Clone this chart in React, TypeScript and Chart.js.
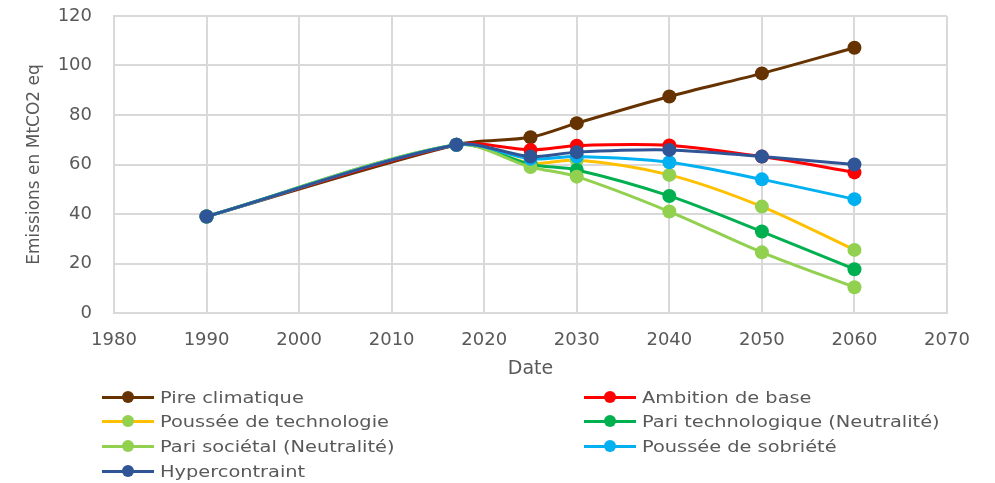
import React, { useEffect, useRef } from "react";
import { Chart, registerables } from "chart.js";

Chart.register(...registerables);

const years = [1990, 2017, 2025, 2030, 2040, 2050, 2060];
const pireClimatique = [39, 68, 71, 76.7, 87.5, 96.8, 107.2];
const ambitionDeBase = [39, 68, 65.9, 67.6, 67.7, 63.2, 56.8];
const pousseeTechnologie = [39, 68, 60.5, 61.8, 55.8, 43, 25.5];
const pariTechnologique = [39, 68, 60, 57.8, 47.3, 32.9, 17.7];
const pariSocietal = [39, 68, 59, 55.1, 41, 24.5, 10.4];
const pousseeSobriete = [39, 68, 62.3, 63.2, 60.9, 54, 46];
const hypercontraint = [39, 68, 63.2, 65, 65.9, 63.2, 60];

const xTicks = [1980, 1990, 2000, 2010, 2020, 2030, 2040, 2050, 2060, 2070];
const yTicks = [0, 20, 40, 60, 80, 100, 120];

const series = [
  { label: "Pire climatique", values: pireClimatique, line: "#663300", marker: "#663300" },
  { label: "Ambition de base", values: ambitionDeBase, line: "#FF0000", marker: "#FF0000" },
  { label: "Poussée de technologie", values: pousseeTechnologie, line: "#FFC000", marker: "#92D050" },
  { label: "Pari technologique (Neutralité)", values: pariTechnologique, line: "#00B050", marker: "#00B050" },
  { label: "Pari sociétal (Neutralité)", values: pariSocietal, line: "#92D050", marker: "#92D050" },
  { label: "Poussée de sobriété", values: pousseeSobriete, line: "#00B0F0", marker: "#00B0F0" },
  { label: "Hypercontraint", values: hypercontraint, line: "#2F5597", marker: "#2F5597" },
];

const FONT = "'DejaVu Sans', sans-serif";
const GRAY = "#595959";
const GRID = "#d9d9d9";

function LegendItem({ s, left, top }: { s: any; left: number; top: number }) {
  return (
    <div style={{ position: "absolute", left, top: top - 12, height: 24, display: "flex", alignItems: "center", whiteSpace: "nowrap" }}>
      <div style={{ position: "relative", width: 52, height: 24 }}>
        <div style={{ position: "absolute", left: 0, top: 10.5, width: 52, height: 3, background: s.line }} />
        <div style={{ position: "absolute", left: 20, top: 6, width: 12, height: 12, borderRadius: 6, background: s.marker }} />
      </div>
      <span style={{ display: "inline-block", marginLeft: 6, fontFamily: FONT, fontSize: 16, color: GRAY, transform: "scaleX(1.21)", transformOrigin: "left center" }}>
        {s.label}
      </span>
    </div>
  );
}

export default function App() {
  const ref = useRef<HTMLCanvasElement | null>(null);

  useEffect(() => {
    if (!ref.current) return;
    const n = series.length;
    const chart = new Chart(ref.current, {
      type: "line",
      data: {
        datasets: series.map((s, i) => ({
          label: s.label,
          data: years.map((y, j) => ({ x: y, y: s.values[j] })),
          borderColor: s.line,
          backgroundColor: s.marker,
          pointBackgroundColor: s.marker,
          pointBorderColor: s.marker,
          pointBorderWidth: 0,
          pointRadius: 7,
          borderWidth: 3,
          tension: 0.3,
          fill: false,
          order: n - i,
        })),
      },
      options: {
        responsive: false,
        animation: false,
        devicePixelRatio: 1,
        layout: { padding: { left: 0, top: 16, right: 48, bottom: 100 } },
        plugins: { legend: { display: false }, tooltip: { enabled: false } },
        scales: {
          x: {
            type: "linear",
            min: 1980,
            max: 2070,
            afterBuildTicks: (scale: any) => {
              scale.ticks = xTicks.map((v) => ({ value: v }));
            },
            afterFit: (scale: any) => {
              scale.height = 70;
            },
            ticks: {
              callback: (v: any) => String(v),
              font: { family: FONT, size: 18 },
              color: GRAY,
              padding: 2,
              maxRotation: 0,
              autoSkip: false,
            },
            grid: { color: GRID, lineWidth: 2, drawTicks: true, tickLength: 15, tickColor: "rgba(0,0,0,0)" },
            border: { color: GRID, width: 2 },
            title: {
              display: true,
              text: "Date",
              font: { family: FONT, size: 19 },
              color: GRAY,
              padding: { top: 0, bottom: 3 },
            },
          },
          y: {
            min: 0,
            max: 120,
            afterBuildTicks: (scale: any) => {
              scale.ticks = yTicks.map((v) => ({ value: v }));
            },
            afterFit: (scale: any) => {
              scale.width = 114;
            },
            ticks: {
              callback: (v: any) => String(v),
              font: { family: FONT, size: 18 },
              color: GRAY,
              padding: 2,
            },
            grid: { color: GRID, lineWidth: 2, drawTicks: true, tickLength: 20, tickColor: "rgba(0,0,0,0)" },
            border: { color: GRID, width: 2 },
            title: {
              display: true,
              text: "Emissions en MtCO2 eq",
              font: { family: FONT, size: 17 },
              color: GRAY,
              padding: { top: 24, bottom: 0 },
            },
          },
        },
      },
    });
    return () => chart.destroy();
  }, []);

  const leftCol = [0, 2, 4, 6];
  const rightCol = [1, 3, 5];
  const rowY = [397, 421, 446, 471];

  return (
    <div style={{ position: "fixed", left: 0, top: 0, width: 995, height: 483, background: "#fff" }}>
      <canvas ref={ref} width={995} height={483} style={{ position: "absolute", left: 0, top: 0 }} />
      {leftCol.map((idx, r) => (
        <LegendItem key={idx} s={series[idx]} left={102} top={rowY[r]} />
      ))}
      {rightCol.map((idx, r) => (
        <LegendItem key={idx} s={series[idx]} left={584} top={rowY[r]} />
      ))}
    </div>
  );
}
